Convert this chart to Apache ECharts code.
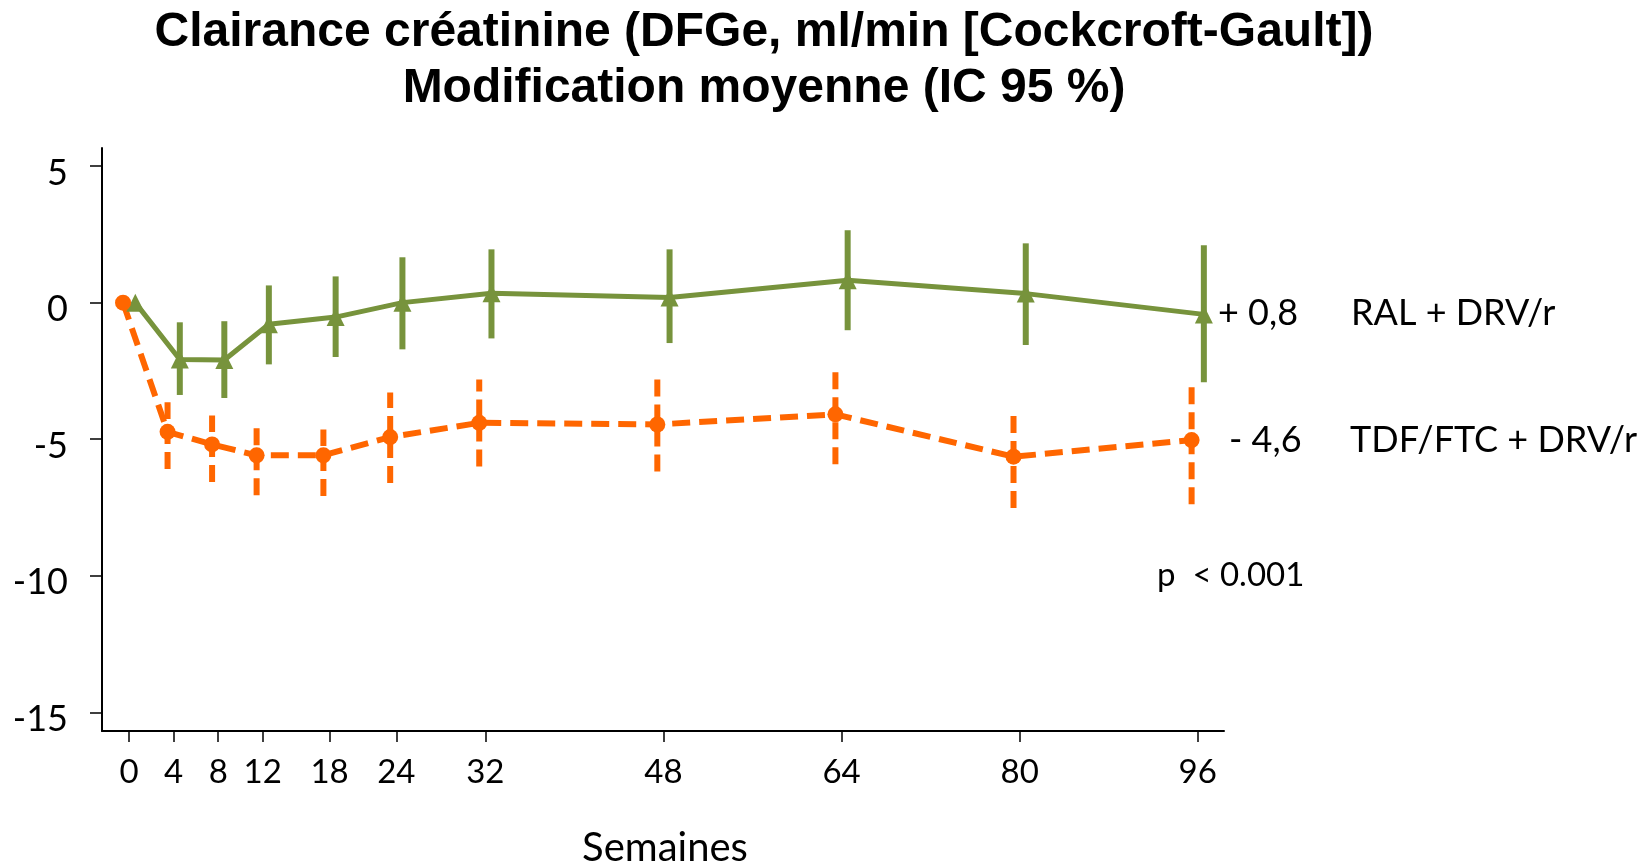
<!DOCTYPE html>
<html>
<head>
<meta charset="utf-8">
<script src="https://cdn.jsdelivr.net/npm/echarts@6/dist/echarts.min.js"></script>
<style>html,body{margin:0;padding:0;background:#fff;}#chart{width:1650px;height:866px;}</style>
</head>
<body>
<div id="chart"></div>
<script>
// ---- data ----
const weeks = [0, 4, 8, 12, 18, 24, 32, 48, 64, 80, 96];
const yTicks = [-15, -10, -5, 0, 5];
const ralMean = [0, -2.08, -2.10, -0.79, -0.53, 0.0, 0.34, 0.19, 0.82, 0.33, -0.43];
const ralLow  = [null, -3.38, -3.49, -2.26, -1.99, -1.71, -1.31, -1.48, -1.01, -1.55, -2.91];
const ralHigh = [null, -0.72, -0.68, 0.63, 0.96, 1.66, 1.95, 1.95, 2.65, 2.17, 2.10];
const tdfMean = [0, -4.73, -5.19, -5.59, -5.59, -4.92, -4.40, -4.46, -4.09, -5.64, -5.03];
const tdfLow  = [null, -6.09, -6.57, -7.05, -7.08, -6.60, -6.00, -6.18, -5.92, -7.52, -7.38];
const tdfHigh = [null, -3.65, -4.13, -4.56, -4.64, -3.29, -2.81, -2.81, -2.55, -4.13, -3.10];
const ralName = 'RAL + DRV/r';
const tdfName = 'TDF/FTC + DRV/r';
const ralDelta = '+ 0,8';
const tdfDelta = '- 4,6';
const pText = 'p  < 0.001';
const titleLines = ['Clairance créatinine (DFGe, ml/min [Cockcroft-Gault])', 'Modification moyenne (IC 95 %)'];
const xName = 'Semaines';

// ---- styling ----
const GREEN = '#77933C';
const ORANGE = '#FF6600';
const FONT = 'Lato';
const dodge = 0.55;

const chart = echarts.init(document.getElementById('chart'), null, {renderer: 'canvas'});

function errData(low, high, off) {
  const out = [];
  weeks.forEach((w, i) => { if (low[i] != null) out.push([w + off, low[i], high[i]]); });
  return out;
}
function errSeries(data, color, dashed) {
  return {
    type: 'custom',
    data: data,
    encode: {x: 0, y: [1, 2]},
    z: 1,
    renderItem: function (params, api) {
      const p1 = api.coord([api.value(0), api.value(1)]);
      const p2 = api.coord([api.value(0), api.value(2)]);
      return {
        type: 'line',
        shape: {x1: p1[0], y1: p1[1], x2: p2[0], y2: p2[1]},
        style: {stroke: color, lineWidth: 6, lineDash: dashed ? [17, 8] : null}
      };
    }
  };
}

const option = {
  backgroundColor: '#fff',
  animation: false,
  grid: {left: 102, right: 426, top: 148, bottom: 135, containLabel: false},
  xAxis: {
    type: 'value', min: -2.44, max: 98.36,
    axisLine: {show: true, onZero: false, lineStyle: {color: '#000', width: 2}},
    axisTick: {show: true, customValues: weeks, length: 11, lineStyle: {color: '#000', width: 1.5}},
    axisLabel: {customValues: weeks, fontFamily: FONT, fontSize: 33, color: '#000', margin: 25},
    splitLine: {show: false}
  },
  yAxis: {
    type: 'value', min: -15.68, max: 5.66,
    axisLine: {show: true, onZero: false, lineStyle: {color: '#000', width: 2}},
    axisTick: {show: true, customValues: yTicks, length: 12, lineStyle: {color: '#000', width: 1.5}},
    axisLabel: {
      customValues: yTicks, color: '#000', margin: 34,
      formatter: function (v) { return '{a|' + v + '}'; },
      rich: {a: {fontFamily: FONT, fontSize: 36, color: '#000', padding: [14, 0, 0, 0]}}
    },
    splitLine: {show: false}
  },
  series: [
    errSeries(errData(ralLow, ralHigh, dodge), GREEN, false),
    errSeries(errData(tdfLow, tdfHigh, -dodge), ORANGE, true),
    {
      name: ralName, type: 'line', z: 3,
      data: weeks.map((w, i) => [w + dodge, ralMean[i]]),
      symbol: 'triangle', symbolSize: 18,
      itemStyle: {color: GREEN},
      lineStyle: {color: GREEN, width: 5}
    },
    {
      name: tdfName, type: 'line', z: 3,
      data: weeks.map((w, i) => [w - dodge, tdfMean[i]]),
      symbol: 'circle', symbolSize: 16,
      itemStyle: {color: ORANGE},
      lineStyle: {color: ORANGE, width: 6, type: [18, 9]}
    }
  ],
  graphic: [
    {type: 'text', x: 764, y: 33, style: {text: titleLines[0], font: 'bold 48px "Liberation Sans"', fill: '#000', textAlign: 'center', textVerticalAlign: 'middle'}},
    {type: 'text', x: 764, y: 89, style: {text: titleLines[1], font: 'bold 48px "Liberation Sans"', fill: '#000', textAlign: 'center', textVerticalAlign: 'middle'}},
    {type: 'text', x: 1218, y: 313, style: {text: ralDelta, font: '36px ' + FONT, fill: '#000', textAlign: 'left', textVerticalAlign: 'middle'}},
    {type: 'text', x: 1351, y: 313, style: {text: ralName, font: '36px ' + FONT, fill: '#000', textAlign: 'left', textVerticalAlign: 'middle'}},
    {type: 'text', x: 1229, y: 440, style: {text: tdfDelta, font: '36px ' + FONT, fill: '#000', textAlign: 'left', textVerticalAlign: 'middle'}},
    {type: 'text', x: 1350, y: 440, style: {text: tdfName, font: '36px ' + FONT, fill: '#000', textAlign: 'left', textVerticalAlign: 'middle'}},
    {type: 'text', x: 1157, y: 575, style: {text: pText, font: '33px ' + FONT, fill: '#000', textAlign: 'left', textVerticalAlign: 'middle'}},
    {type: 'text', x: 665, y: 848, style: {text: xName, font: '40px ' + FONT, fill: '#000', textAlign: 'center', textVerticalAlign: 'middle'}}
  ]
};
chart.setOption(option);
</script>
</body>
</html>
